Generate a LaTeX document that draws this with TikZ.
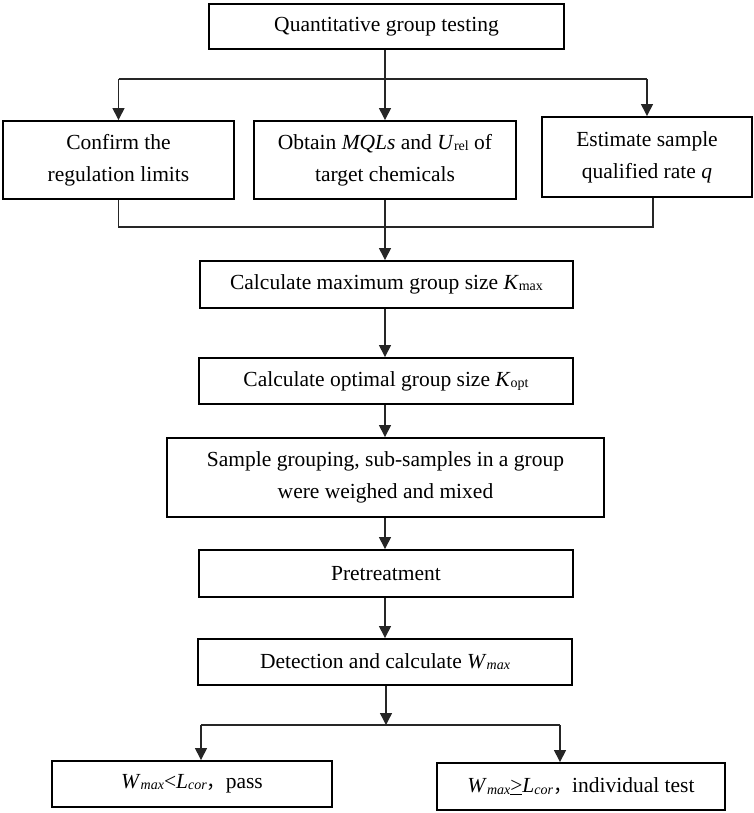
\documentclass[tikz,border=0pt]{standalone}
\usepackage{fontspec}
\setmainfont{Liberation Serif}
\newfontfamily\cjk{Noto Sans CJK SC}
\usetikzlibrary{arrows.meta}
\newcommand{\smsub}[1]{\raisebox{-0.12ex}{\fontsize{14}{14}\selectfont #1}}
\newcommand{\fwc}{{\cjk\fontsize{19}{19}\selectfont ，}}
\tikzset{
  box/.style={draw=black, line width=1.9pt, rectangle, align=center, inner sep=0pt,
              font=\fontsize{21.5}{32}\selectfont, text=black},
  conn/.style={draw=black!85, line width=1.4pt},
  arr/.style={conn, -{Triangle[length=12pt,width=12pt]}}
}
\begin{document}
\begin{tikzpicture}[x=1pt,y=-1pt]
\useasboundingbox (0,0) rectangle (754,813);
\node[box, minimum width=355pt, minimum height=45pt] (top) at (386.5,26.5) {Quantitative group testing};
\node[box, minimum width=231pt, minimum height=78pt] (left) at (118.5,160) {Confirm the\\regulation limits};
\node[box, minimum width=262pt, minimum height=78pt] (mid) at (385,160) {Obtain \textit{MQLs} and \textit{U}\smsub{rel} of\\target chemicals};
\node[box, minimum width=210pt, minimum height=80pt] (right) at (647,157) {Estimate sample\\qualified rate \textit{q}};
\node[box, minimum width=373pt, minimum height=47pt] (kmax) at (386.5,284.5) {Calculate maximum group size \textit{K}\smsub{max}};
\node[box, minimum width=374pt, minimum height=46pt] (kopt) at (386,381) {Calculate optimal group size \textit{K}\smsub{opt}};
\node[box, minimum width=437pt, minimum height=79pt] (sample) at (385.5,477.5) {Sample grouping, sub-samples in a group\\were weighed and mixed};
\node[box, minimum width=374pt, minimum height=47pt] (pre) at (386,573.5) {Pretreatment};
\node[box, minimum width=374pt, minimum height=46pt] (det) at (385,662) {Detection and calculate \textit{W}\smsub{\textit{max}}};
\node[box, minimum width=280pt, minimum height=46pt] (lb) at (192,784) {\textit{W}\smsub{\textit{max}}<\textit{L}\smsub{\textit{cor}}\fwc pass};
\node[box, minimum width=288pt, minimum height=47pt] (rb) at (581,786.5) {\textit{W}\smsub{\textit{max}}\underline{>}\textit{L}\smsub{\textit{cor}}\fwc individual test};
% top fan-out
\coordinate (tc) at (385,79);
\coordinate (tl) at (118.5,79);
\coordinate (tr) at (647,79);
\draw[conn] (top.south -| tc) -- (tc);
\draw[conn] (tl) -- (tr);
\draw[arr] (tl) -- (left.north);
\draw[arr] (tc) -- (mid.north);
\draw[arr] (tr) -- (right.north);
% join
\coordinate (jl) at (118.5,227);
\coordinate (jr) at (653,227);
\draw[conn] (left.south) -- (jl) -- (jr) -- (jr |- right.south);
\draw[arr] (mid.south) -- (kmax.north -| mid.south);
% chain
\draw[arr] (kmax.south -| tc) -- (kopt.north -| tc);
\draw[arr] (kopt.south -| tc) -- (sample.north -| tc);
\draw[arr] (sample.south -| tc) -- (pre.north -| tc);
\draw[arr] (pre.south -| tc) -- (det.north -| tc);
% split
\coordinate (sc) at (386,725);
\coordinate (sl) at (201,725);
\coordinate (sr) at (560,725);
\draw[arr] (det.south -| sc) -- (sc);
\draw[conn] (sl) -- (sr);
\draw[arr] (sl) -- (lb.north -| sl);
\draw[arr] (sr) -- (rb.north -| sr);
\end{tikzpicture}
\end{document}
